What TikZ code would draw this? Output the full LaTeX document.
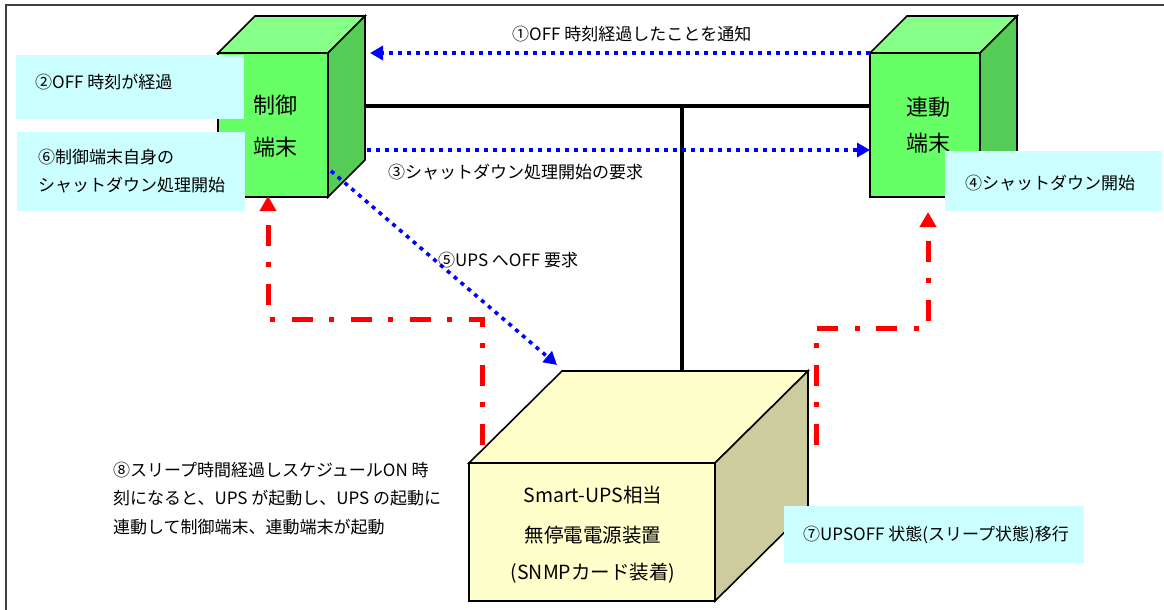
\documentclass[tikz,border=0pt]{standalone}
\usepackage{fontspec}
\setmainfont{Noto Sans CJK JP}
\usetikzlibrary{arrows.meta}

\definecolor{notefill}{HTML}{CCFFFF}
\definecolor{gfront}{HTML}{66FF66}
\definecolor{gtop}{HTML}{88FF88}
\definecolor{gside}{HTML}{55CC55}
\definecolor{ufront}{HTML}{FFFFCC}
\definecolor{uside}{HTML}{CCCC9F}
\definecolor{msgblue}{HTML}{0000FF}
\definecolor{wakered}{HTML}{FF0000}
\definecolor{framegray}{HTML}{404040}

\tikzset{
  face/.style={draw=black, line width=1.6pt, line join=miter},
  note/.style={fill=notefill, draw=none},
  msg/.style={draw=msgblue, line width=3.6pt, dash pattern=on 4pt off 5pt,
    -{Triangle[length=13pt,width=14pt]}},
  wake/.style={draw=wakered, line width=5pt,
    dash pattern=on 21pt off 17pt on 5pt off 16pt,
    -{Triangle[length=15pt,width=16pt]}},
  wakeline/.style={draw=wakered, line width=5pt,
    dash pattern=on 21pt off 17pt on 5pt off 16pt},
  bus/.style={draw=black, line width=4pt},
  lbl/.style={font=\fontsize{17}{28.5}\selectfont, text=black, inner sep=0pt, anchor=west, align=left},
  cubelbl/.style={font=\fontsize{22}{26}\selectfont, text=black, inner sep=0pt},
  upslbl/.style={font=\fontsize{19.5}{24}\selectfont, text=black, inner sep=0pt},
}

\begin{document}
\begin{tikzpicture}[x=1pt,y=-1pt]
\useasboundingbox (0,0) rectangle (1164,610);
\fill[white] (0,0) rectangle (1164,610);

% outer frame
\begin{scope}
  \clip (0,0) rectangle (1164,610);
  \draw[framegray, line width=1.2pt] (6,5) rectangle (1180,630);
\end{scope}

% ---------- control terminal (green cube) ----------
\coordinate (ctl-ftl) at (218,53);
\coordinate (ctl-ftr) at (328,53);
\coordinate (ctl-fbr) at (328,197);
\coordinate (ctl-fbl) at (218,197);
\coordinate (ctl-btl) at (255,16);
\coordinate (ctl-btr) at (365,16);
\coordinate (ctl-bbr) at (365,160);
\filldraw[face, fill=gfront] (ctl-ftl) -- (ctl-ftr) -- (ctl-fbr) -- (ctl-fbl) -- cycle;
\filldraw[face, fill=gtop] (ctl-ftl) -- (ctl-btl) -- (ctl-btr) -- (ctl-ftr) -- cycle;
\filldraw[face, fill=gside] (ctl-ftr) -- (ctl-btr) -- (ctl-bbr) -- (ctl-fbr) -- cycle;

% ---------- linked terminal (green cube) ----------
\coordinate (lnk-ftl) at (870,53);
\coordinate (lnk-ftr) at (980,53);
\coordinate (lnk-fbr) at (980,197);
\coordinate (lnk-fbl) at (870,197);
\coordinate (lnk-btl) at (907,16);
\coordinate (lnk-btr) at (1017,16);
\coordinate (lnk-bbr) at (1017,160);
\filldraw[face, fill=gfront] (lnk-ftl) -- (lnk-ftr) -- (lnk-fbr) -- (lnk-fbl) -- cycle;
\filldraw[face, fill=gtop] (lnk-ftl) -- (lnk-btl) -- (lnk-btr) -- (lnk-ftr) -- cycle;
\filldraw[face, fill=gside] (lnk-ftr) -- (lnk-btr) -- (lnk-bbr) -- (lnk-fbr) -- cycle;

% ---------- UPS (cream cube) ----------
\coordinate (ups-ftl) at (469,463);
\coordinate (ups-ftr) at (715,463);
\coordinate (ups-fbr) at (715,601);
\coordinate (ups-fbl) at (469,601);
\coordinate (ups-btl) at (562,371);
\coordinate (ups-btr) at (808,371);
\coordinate (ups-bbr) at (808,509);
\filldraw[face, fill=ufront] (ups-ftl) -- (ups-ftr) -- (ups-fbr) -- (ups-fbl) -- cycle;
\filldraw[face, fill=ufront] (ups-ftl) -- (ups-btl) -- (ups-btr) -- (ups-ftr) -- cycle;
\filldraw[face, fill=uside] (ups-ftr) -- (ups-btr) -- (ups-bbr) -- (ups-fbr) -- cycle;

% ---------- network bus ----------
\coordinate (bus-l) at (365,106);
\coordinate (bus-r) at (870,106);
\coordinate (bus-t) at (682,106);
\coordinate (bus-b) at (682,371);
\draw[bus] (bus-l) -- (bus-r);
\draw[bus] (bus-t) -- (bus-b);

% ---------- cube labels ----------
\node[cubelbl] (ctl-l1) at (275,105) {制御};
\node[cubelbl] (ctl-l2) at (275,147) {端末};
\node[cubelbl] (lnk-l1) at (928,107) {連動};
\node[cubelbl] (lnk-l2) at (928,143) {端末};
\node[upslbl] (ups-l1) at (593,495) {Smart-UPS相当};
\node[upslbl] (ups-l2) at (593,535) {無停電電源装置};
\node[upslbl] (ups-l3) at (593,573) {(SNMPカード装着)};

% ---------- note boxes ----------
\fill[note] (16,55) rectangle (244,119);
\fill[note] (17,132) rectangle (245,211);
\fill[note] (945,151) rectangle (1162,211);
\fill[note] (784,506) rectangle (1084,563);

% ---------- blue message arrows ----------
\coordinate (m1-end) at (370,53);
\coordinate (m3-start) at (367,150);
\coordinate (m3-end) at (870,150);
\coordinate (m5-start) at (331,171);
\coordinate (m5-end) at (557,365);
\draw[msg] (lnk-ftl) -- (m1-end);
\draw[msg] (m3-start) -- (m3-end);
\draw[msg] (m5-start) -- (m5-end);

% ---------- red wake-up paths ----------
\coordinate (wl-a) at (482,445);
\coordinate (wl-b) at (482,319);
\coordinate (wl-c) at (268,319);
\coordinate (wl-d) at (268,196);
\draw[wake] (wl-a) -- (wl-b) -- (wl-c) -- (wl-d);
\coordinate (wr-a) at (816,445);
\coordinate (wr-b) at (816,328);
\coordinate (wr-c) at (928,328);
\coordinate (wr-d) at (928,212);
\draw[wake] (wr-a) -- (wr-b) -- (wr-c) -- (wr-d);

% ---------- step labels ----------
\node[lbl] (s1) at (512,34) {①OFF 時刻経過したことを通知};
\node[lbl] (s2) at (35,82) {②OFF 時刻が経過};
\node[lbl] (s3) at (388,172) {③シャットダウン処理開始の要求};
\node[lbl] (s4) at (965,183) {④シャットダウン開始};
\node[lbl] (s5) at (438,260) {⑤UPS へOFF 要求};
\node[lbl, font=\fontsize{17}{28}\selectfont] (s6) at (38,171) {⑥制御端末自身の\\シャットダウン処理開始};
\node[lbl] (s7) at (803,535) {⑦UPSOFF 状態(スリープ状態)移行};
\node[lbl] (s8) at (113,498.5) {⑧スリープ時間経過しスケジュールON 時\\刻になると、UPS が起動し、UPS の起動に\\連動して制御端末、連動端末が起動};

\end{tikzpicture}
\end{document}
